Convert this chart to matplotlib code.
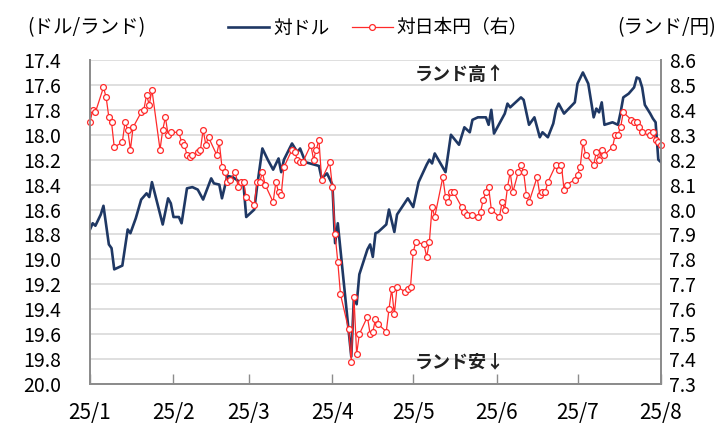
import matplotlib.pyplot as plt
import matplotlib.dates as mdates
import pandas as pd

plt.rcParams['font.family'] = ['Noto Sans CJK JP', 'DejaVu Sans']

# 対ドル (ドル/ランド, 左軸・反転)
usd_dates = ['2025-01-01', '2025-01-02', '2025-01-03', '2025-01-05', '2025-01-06', '2025-01-08',
             '2025-01-09', '2025-01-10', '2025-01-13', '2025-01-15', '2025-01-16', '2025-01-18',
             '2025-01-20', '2025-01-22', '2025-01-23', '2025-01-24', '2025-01-28', '2025-01-30',
             '2025-01-31', '2025-02-01', '2025-02-03', '2025-02-04', '2025-02-06', '2025-02-08',
             '2025-02-10', '2025-02-12', '2025-02-15', '2025-02-16', '2025-02-18', '2025-02-19',
             '2025-02-21', '2025-02-23', '2025-02-25', '2025-02-27', '2025-02-28', '2025-03-03',
             '2025-03-04', '2025-03-06', '2025-03-08', '2025-03-10', '2025-03-12', '2025-03-13',
             '2025-03-14', '2025-03-17', '2025-03-19', '2025-03-20', '2025-03-22', '2025-03-27',
             '2025-03-28', '2025-03-30', '2025-04-01', '2025-04-02', '2025-04-03', '2025-04-08',
             '2025-04-09', '2025-04-10', '2025-04-11', '2025-04-14', '2025-04-15', '2025-04-16',
             '2025-04-17', '2025-04-18', '2025-04-21', '2025-04-22', '2025-04-24', '2025-04-25',
             '2025-04-29', '2025-05-01', '2025-05-03', '2025-05-06', '2025-05-07', '2025-05-08',
             '2025-05-09', '2025-05-13', '2025-05-15', '2025-05-18', '2025-05-20', '2025-05-22',
             '2025-05-23', '2025-05-25', '2025-05-28', '2025-05-29', '2025-05-30', '2025-05-31',
             '2025-06-04', '2025-06-05', '2025-06-06', '2025-06-08', '2025-06-10', '2025-06-11',
             '2025-06-13', '2025-06-15', '2025-06-17', '2025-06-18', '2025-06-20', '2025-06-22',
             '2025-06-23', '2025-06-24', '2025-06-26', '2025-06-30', '2025-07-01', '2025-07-03',
             '2025-07-05', '2025-07-07', '2025-07-08', '2025-07-09', '2025-07-10', '2025-07-11',
             '2025-07-14', '2025-07-16', '2025-07-17', '2025-07-18', '2025-07-20', '2025-07-22',
             '2025-07-23', '2025-07-24', '2025-07-25', '2025-07-26', '2025-07-28', '2025-07-29',
             '2025-07-30', '2025-07-31', '2025-08-01']
usd_vals = [18.76, 18.71, 18.73, 18.64, 18.57, 18.88,
            18.91, 19.08, 19.05, 18.76, 18.79, 18.67,
            18.52, 18.47, 18.50, 18.38, 18.72, 18.51,
            18.55, 18.66, 18.66, 18.71, 18.43, 18.42,
            18.44, 18.52, 18.35, 18.39, 18.40, 18.51,
            18.33, 18.34, 18.37, 18.40, 18.66, 18.60,
            18.42, 18.11, 18.20, 18.28, 18.19, 18.30,
            18.20, 18.07, 18.14, 18.11, 18.22, 18.25,
            18.35, 18.31, 18.40, 18.87, 18.71, 19.78,
            19.30, 19.36, 19.12, 18.92, 18.88, 18.98,
            18.79, 18.78, 18.72, 18.60, 18.78, 18.64,
            18.51, 18.58, 18.38, 18.24, 18.20, 18.23,
            18.15, 18.30, 18.00, 18.08, 17.94, 17.98,
            17.88, 17.86, 17.86, 17.92, 17.80, 17.99,
            17.83, 17.75, 17.78, 17.74, 17.70, 17.72,
            17.92, 17.86, 18.02, 17.98, 18.02, 17.91,
            17.80, 17.75, 17.83, 17.74, 17.59, 17.50,
            17.59, 17.86, 17.79, 17.82, 17.74, 17.92,
            17.90, 17.92, 17.82, 17.70, 17.67, 17.62,
            17.54, 17.55, 17.62, 17.76, 17.83, 17.87,
            17.90, 18.20, 18.22]

# 対日本円 (円/ランド, 右軸)
jpy_dates = ['2025-01-01', '2025-01-02', '2025-01-03', '2025-01-06', '2025-01-07', '2025-01-08',
             '2025-01-09', '2025-01-10', '2025-01-13', '2025-01-14', '2025-01-15', '2025-01-16',
             '2025-01-17', '2025-01-20', '2025-01-21', '2025-01-22', '2025-01-23', '2025-01-24',
             '2025-01-27', '2025-01-28', '2025-01-29', '2025-01-30', '2025-01-31', '2025-02-03',
             '2025-02-04', '2025-02-05', '2025-02-06', '2025-02-07', '2025-02-08', '2025-02-10',
             '2025-02-11', '2025-02-12', '2025-02-13', '2025-02-14', '2025-02-17', '2025-02-18',
             '2025-02-19', '2025-02-20', '2025-02-21', '2025-02-22', '2025-02-24', '2025-02-25',
             '2025-02-26', '2025-02-27', '2025-02-28', '2025-03-03', '2025-03-04', '2025-03-05',
             '2025-03-06', '2025-03-07', '2025-03-10', '2025-03-11', '2025-03-12', '2025-03-13',
             '2025-03-14', '2025-03-17', '2025-03-18', '2025-03-19', '2025-03-20', '2025-03-21',
             '2025-03-24', '2025-03-25', '2025-03-26', '2025-03-27', '2025-03-28', '2025-03-31',
             '2025-04-01', '2025-04-02', '2025-04-03', '2025-04-04', '2025-04-07', '2025-04-08',
             '2025-04-09', '2025-04-10', '2025-04-11', '2025-04-14', '2025-04-15', '2025-04-16',
             '2025-04-17', '2025-04-18', '2025-04-21', '2025-04-22', '2025-04-23', '2025-04-24',
             '2025-04-25', '2025-04-28', '2025-04-29', '2025-04-30', '2025-05-01', '2025-05-02',
             '2025-05-05', '2025-05-06', '2025-05-07', '2025-05-08', '2025-05-09', '2025-05-12',
             '2025-05-13', '2025-05-14', '2025-05-15', '2025-05-16', '2025-05-19', '2025-05-20',
             '2025-05-21', '2025-05-23', '2025-05-25', '2025-05-26', '2025-05-27', '2025-05-28',
             '2025-05-29', '2025-05-30', '2025-06-02', '2025-06-03', '2025-06-04', '2025-06-05',
             '2025-06-06', '2025-06-07', '2025-06-09', '2025-06-10', '2025-06-11', '2025-06-12',
             '2025-06-13', '2025-06-16', '2025-06-17', '2025-06-18', '2025-06-19', '2025-06-20',
             '2025-06-23', '2025-06-24', '2025-06-25', '2025-06-26', '2025-06-27', '2025-06-30',
             '2025-07-01', '2025-07-02', '2025-07-03', '2025-07-04', '2025-07-07', '2025-07-08',
             '2025-07-09', '2025-07-10', '2025-07-11', '2025-07-14', '2025-07-15', '2025-07-16',
             '2025-07-17', '2025-07-18', '2025-07-21', '2025-07-22', '2025-07-23', '2025-07-24',
             '2025-07-25', '2025-07-27', '2025-07-28', '2025-07-29', '2025-07-30', '2025-07-31',
             '2025-08-01']
jpy_vals = [8.35, 8.40, 8.39, 8.49, 8.45, 8.37,
            8.35, 8.25, 8.27, 8.35, 8.32, 8.24,
            8.33, 8.39, 8.40, 8.46, 8.42, 8.48,
            8.24, 8.32, 8.37, 8.30, 8.31, 8.31,
            8.27, 8.26, 8.22, 8.21, 8.22, 8.23,
            8.24, 8.32, 8.26, 8.29, 8.22, 8.27,
            8.17, 8.15, 8.11, 8.12, 8.15, 8.09,
            8.11, 8.11, 8.05, 8.02, 8.11, 8.11,
            8.15, 8.10, 8.03, 8.11, 8.07, 8.06,
            8.17, 8.24, 8.23, 8.20, 8.19, 8.19,
            8.26, 8.20, 8.24, 8.28, 8.12, 8.19,
            8.09, 7.90, 7.79, 7.66, 7.52, 7.39,
            7.65, 7.42, 7.50, 7.57, 7.50, 7.51,
            7.56, 7.54, 7.51, 7.60, 7.68, 7.58,
            7.69, 7.67, 7.68, 7.69, 7.83, 7.87,
            7.86, 7.81, 7.87, 8.01, 7.97, 8.13,
            8.05, 8.03, 8.07, 8.07, 8.01, 7.99,
            7.98, 7.98, 7.97, 7.99, 8.04, 8.07,
            8.09, 8.00, 7.97, 8.03, 8.00, 8.09,
            8.15, 8.07, 8.15, 8.18, 8.15, 8.06,
            8.03, 8.13, 8.06, 8.07, 8.07, 8.11,
            8.18, 8.16, 8.18, 8.08, 8.10, 8.12,
            8.14, 8.17, 8.27, 8.22, 8.18, 8.23,
            8.20, 8.24, 8.22, 8.25, 8.30, 8.30,
            8.33, 8.39, 8.36, 8.35, 8.35, 8.33,
            8.31, 8.31, 8.30, 8.31, 8.28, 8.27,
            8.26]

month_ticks = ['2025-01-01', '2025-02-01', '2025-03-01', '2025-04-01',
               '2025-05-01', '2025-06-01', '2025-07-01', '2025-08-01']
month_labels = ['25/1', '25/2', '25/3', '25/4', '25/5', '25/6', '25/7', '25/8']

navy = '#1F3864'
red = '#FF2A2A'
spine_gray = '#8C8C8C'

fig = plt.figure(figsize=(7.17, 4.25), dpi=100)
ax = fig.add_axes([90 / 717, 1 - 384 / 425, 571 / 717, 324 / 425])
ax2 = ax.twinx()

ax.plot(pd.to_datetime(usd_dates), usd_vals, color=navy, lw=1.9, label='対ドル', zorder=3)
ax2.plot(pd.to_datetime(jpy_dates), jpy_vals, color=red, lw=0.9, marker='o', ms=4.2,
         mfc='white', mec=red, mew=0.9, label='対日本円（右）', clip_on=False)

ax.set_xlim(pd.Timestamp('2025-01-01'), pd.Timestamp('2025-08-01'))
ax.set_ylim(20.0, 17.4)
ax2.set_ylim(7.3, 8.6)
ax.set_yticks([17.4 + 0.2 * i for i in range(14)])
ax2.set_yticks([7.3 + 0.1 * i for i in range(14)])
ax.yaxis.set_major_formatter(plt.FormatStrFormatter('%.1f'))
ax2.yaxis.set_major_formatter(plt.FormatStrFormatter('%.1f'))

ax.set_xticks(pd.to_datetime(month_ticks))
ax.set_xticklabels(month_labels)

ax.grid(axis='y', color='#D9D9D9', lw=1.2)
ax.set_axisbelow(True)

for a in (ax, ax2):
    for s in a.spines.values():
        s.set_color(spine_gray)
        s.set_linewidth(1.3)
    a.spines['top'].set_visible(False)

ax.tick_params(axis='x', direction='in', length=7, width=1, color=spine_gray,
               labelsize=15, pad=13)
ax.tick_params(axis='y', length=0, labelsize=14, pad=21)
ax2.tick_params(axis='y', length=0, labelsize=14, pad=6)

ax.text(0.648, 0.955, 'ランド高↑', transform=ax.transAxes, ha='center', va='center',
        fontsize=13, fontweight='bold', color='#222222')
ax.text(0.648, 0.07, 'ランド安↓', transform=ax.transAxes, ha='center', va='center',
        fontsize=13, fontweight='bold', color='#222222')

fig.text(27 / 717, 1 - 28 / 425, '(ドル/ランド)', ha='left', va='center', fontsize=14)
fig.text(716 / 717, 1 - 28 / 425, '(ランド/円)', ha='right', va='center', fontsize=14)

h1, l1 = ax.get_legend_handles_labels()
h2, l2 = ax2.get_legend_handles_labels()
fig.legend(h1 + h2, l1 + l2, loc='center', bbox_to_anchor=(378 / 717, 1 - 28 / 425),
           ncol=2, frameon=False, fontsize=13.5, handlelength=2.2, handletextpad=0.2,
           columnspacing=1.2)

fig.savefig('out.png', dpi=100)
